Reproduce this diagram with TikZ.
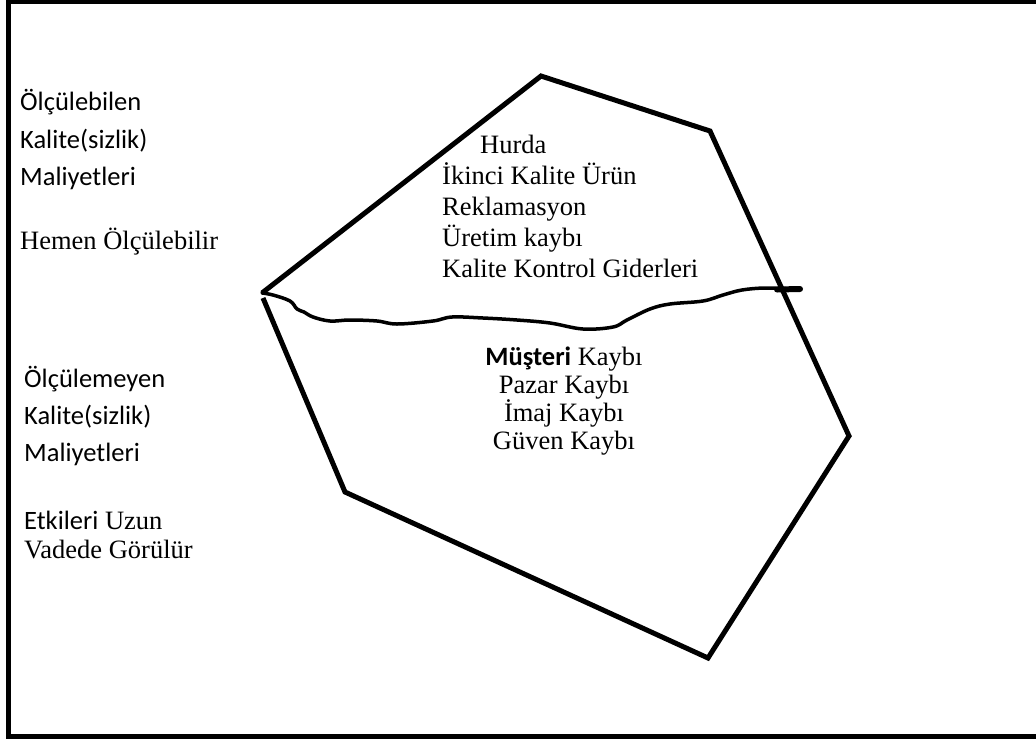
\documentclass[tikz,border=0pt]{standalone}
\usepackage{fontspec}
\setmainfont{Liberation Serif}
\newfontfamily\calfont{Carlito}
\begin{document}
\begin{tikzpicture}[x=1pt,y=-1pt,
  lbl/.style={inner sep=0pt,anchor=base west,font=\fontsize{26.5}{30}\selectfont},
  clbl/.style={inner sep=0pt,anchor=base,font=\fontsize{26.5}{30}\selectfont},
  edge/.style={line width=5pt,line join=miter},
  wave/.style={line width=3.5pt,line cap=round}]
\useasboundingbox (0,0) rectangle (1036,740);
\draw[line width=4.5pt] (1100,2) -- (8.5,2) -- (8.5,736.5) -- (1100,736.5);
% polygon
\coordinate (p1) at (262,293);
\coordinate (p2) at (541,76);
\coordinate (p3) at (710,131);
\coordinate (p4) at (849,436);
\coordinate (p5) at (708,658);
\coordinate (p6) at (345,492);
\coordinate (p7) at (263,298);
\draw[edge] (p1) -- (p2) -- (p3) -- (p4) -- (p5) -- (p6) -- (p7);
% wavy line
\draw[wave] plot[smooth,tension=0.6] coordinates {(262,293) (273,295) (290,301) (297,309) (304,312) (313,317) (330,321) (350,320) (377,321) (397,324) (433,321) (452,317) (483,318) (517,320) (550,323) (583,329) (613,327) (627,320) (650,309) (670,304) (703,301) (723,295) (742,290) (765,288) (790,289)};
\draw[line width=6pt,line cap=round] (777,289.5) -- (800,289);
% left texts
\node[lbl] (a1) at (20,110) {\calfont Ölçülebilen};
\node[lbl] (a2) at (20,148) {\calfont Kalite(sizlik)};
\node[lbl] (a3) at (20,185) {\calfont Maliyetleri};
\node[lbl] (a4) at (20,249) {Hemen Ölçülebilir};
\node[lbl] (b1) at (24,387) {\calfont Ölçülemeyen};
\node[lbl] (b2) at (24,424) {\calfont Kalite(sizlik)};
\node[lbl] (b3) at (24,461) {\calfont Maliyetleri};
\node[lbl] (b4) at (24,529) {{\calfont Etkileri} Uzun};
\node[lbl] (b5) at (24,558) {Vadede Görülür};
% upper center
\node[lbl] (c1) at (480,153) {Hurda};
\node[lbl] (c2) at (442,184) {İkinci Kalite Ürün};
\node[lbl] (c3) at (442,215) {Reklamasyon};
\node[lbl] (c4) at (442,246) {Üretim kaybı};
\node[lbl] (c5) at (442,277) {Kalite Kontrol Giderleri};
% lower center
\node[clbl] (d1) at (564,365) {{\calfont\bfseries Müşteri} Kaybı};
\node[clbl] (d2) at (564,393) {Pazar Kaybı};
\node[clbl] (d3) at (564,421) {İmaj Kaybı};
\node[clbl] (d4) at (564,449) {Güven Kaybı};
\end{tikzpicture}
\end{document}
